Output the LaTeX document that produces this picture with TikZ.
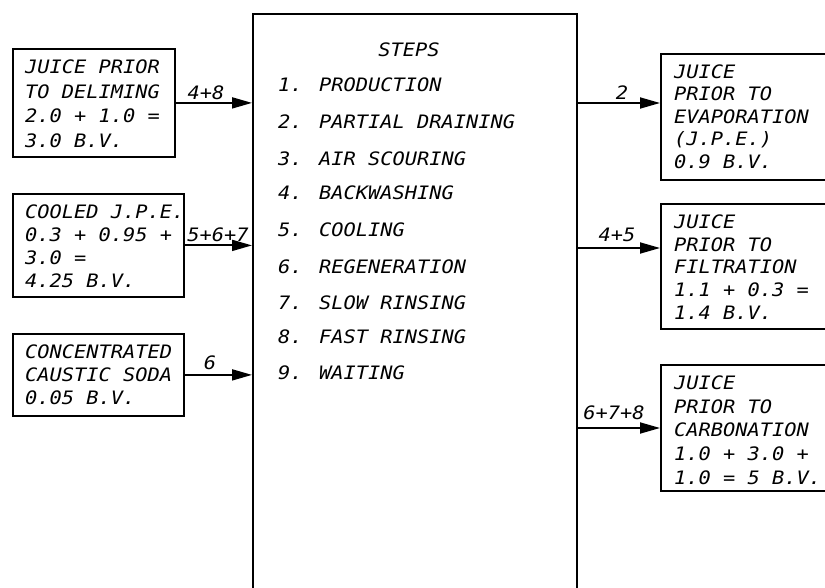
\documentclass[tikz,border=0pt]{standalone}
\usepackage{fontspec}
\usetikzlibrary{arrows.meta}
\newfontfamily\cadfont[FakeStretch=1.1]{DejaVu Sans Mono}
\begin{document}
\begin{tikzpicture}[x=1pt,y=-1pt,
  box/.style={draw, line width=1.8pt, rectangle, inner sep=0pt, anchor=north west},
  txt/.style={anchor=base west, inner sep=0pt, font=\cadfont\itshape\fontsize{18.5}{22}\selectfont},
  lbl/.style={anchor=base, inner sep=0pt, font=\cadfont\itshape\fontsize{18.5}{22}\selectfont},
  arr/.style={line width=1.8pt, -{Triangle[length=20pt,width=11pt]}}]
\clip (0,0) rectangle (825,588);
\fill[white] (0,0) rectangle (825,588);
% boxes
\node[box, minimum width=162pt, minimum height=108pt] (l1) at (12,48) {};
\node[box, minimum width=171pt, minimum height=103pt] (l2) at (12,193) {};
\node[box, minimum width=171pt, minimum height=82pt] (l3) at (12,333) {};
\node[box, minimum width=324pt, minimum height=620pt] (c) at (252,13) {};
\node[box, minimum width=200pt, minimum height=126pt] (r1) at (660,53) {};
\node[box, minimum width=200pt, minimum height=125pt] (r2) at (660,203) {};
\node[box, minimum width=200pt, minimum height=126pt] (r3) at (660,364) {};
% left texts
\node[txt] (l1a) at (25,73.5) {JUICE PRIOR};
\node[txt] (l1b) at (25,98.2) {TO DELIMING};
\node[txt] (l1c) at (25,122.8) {2.0 + 1.0 =};
\node[txt] (l1d) at (25,147.5) {3.0 B.V.};
\node[txt] (l2a) at (25,218.5) {COOLED J.P.E.};
\node[txt] (l2b) at (25,241.5) {0.3 + 0.95 +};
\node[txt] (l2c) at (25,264.5) {3.0 =};
\node[txt] (l2d) at (25,287.5) {4.25 B.V.};
\node[txt] (l3a) at (25,358.5) {CONCENTRATED};
\node[txt] (l3b) at (25,381.5) {CAUSTIC SODA};
\node[txt] (l3c) at (25,404.5) {0.05 B.V.};
% center texts
\node[lbl] (st) at (409,56.5) {STEPS};
\node[txt] (s1) at (278,91.5) {1. PRODUCTION};
\node[txt] (s2) at (278,128.5) {2. PARTIAL DRAINING};
\node[txt] (s3) at (278,165.5) {3. AIR SCOURING};
\node[txt] (s4) at (278,199.5) {4. BACKWASHING};
\node[txt] (s5) at (278,236.5) {5. COOLING};
\node[txt] (s6) at (278,273.5) {6. REGENERATION};
\node[txt] (s7) at (278,309.5) {7. SLOW RINSING};
\node[txt] (s8) at (278,343.5) {8. FAST RINSING};
\node[txt] (s9) at (278,379.5) {9. WAITING};
% right texts
\node[txt] (r1a) at (674,78.5) {JUICE};
\node[txt] (r1b) at (674,101) {PRIOR TO};
\node[txt] (r1c) at (674,123.5) {EVAPORATION};
\node[txt] (r1d) at (674,146) {(J.P.E.)};
\node[txt] (r1e) at (674,168.5) {0.9 B.V.};
\node[txt] (r2a) at (674,228.5) {JUICE};
\node[txt] (r2b) at (674,251.3) {PRIOR TO};
\node[txt] (r2c) at (674,274) {FILTRATION};
\node[txt] (r2d) at (674,296.8) {1.1 + 0.3 =};
\node[txt] (r2e) at (674,319.5) {1.4 B.V.};
\node[txt] (r3a) at (674,389.5) {JUICE};
\node[txt] (r3b) at (674,413.2) {PRIOR TO};
\node[txt] (r3c) at (674,436.9) {CARBONATION};
\node[txt] (r3d) at (674,460.6) {1.0 + 3.0 +};
\node[txt] (r3e) at (674,484.3) {1.0 = 5 B.V.};
% connectors
\draw[arr] (l1.east) -- (l1.east -| c.west);
\draw[arr] (l2.east) -- (l2.east -| c.west);
\draw[arr] (l3.east) -- (l3.east -| c.west);
\coordinate (o1) at (576,103);
\coordinate (o2) at (576,248);
\coordinate (o3) at (576,428);
\draw[arr] (o1) -- (o1 -| r1.west);
\draw[arr] (o2) -- (o2 -| r2.west);
\draw[arr] (o3) -- (o3 -| r3.west);
% connector labels
\node[lbl] (t1) at (206,99.5) {4+8};
\node[lbl] (t2) at (218,241.5) {5+6+7};
\node[lbl] (t3) at (210,369.5) {6};
\node[lbl] (t4) at (622,99.5) {2};
\node[lbl] (t5) at (617,241.5) {4+5};
\node[lbl] (t6) at (614,419.5) {6+7+8};
\end{tikzpicture}
\end{document}
